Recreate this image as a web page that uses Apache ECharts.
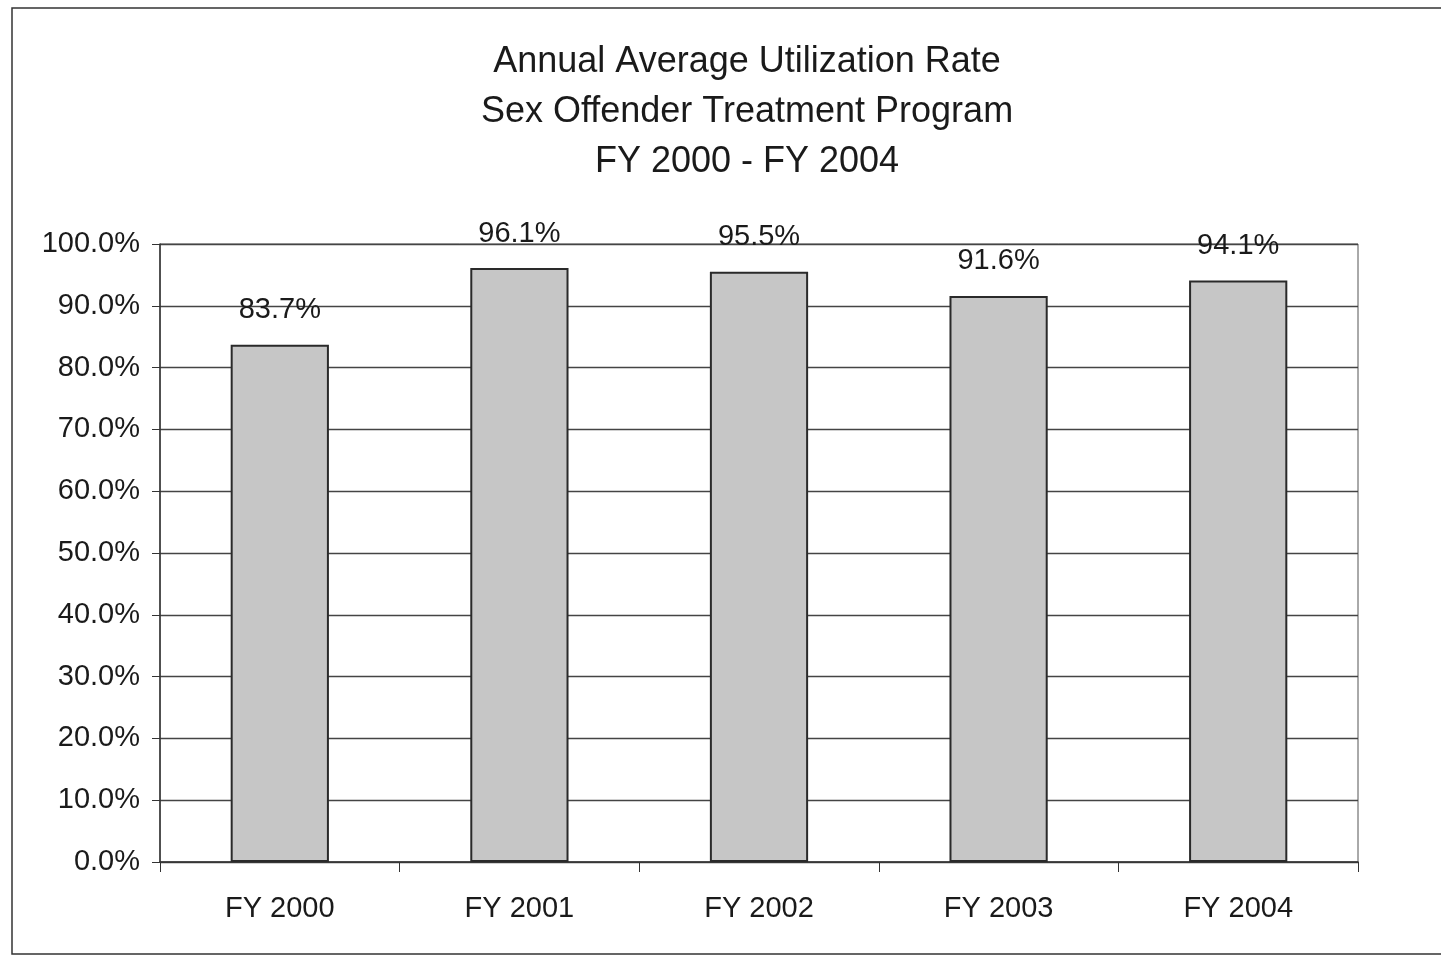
<!DOCTYPE html>
<html>
<head>
<meta charset="utf-8">
<script src="https://cdn.jsdelivr.net/npm/echarts@6/dist/echarts.min.js"></script>
<style>
  html, body { margin: 0; padding: 0; background: #fff; }
  #chart { width: 1441px; height: 969px; }
</style>
</head>
<body>
<div id="chart"></div>
<script>
// 数据
var categories = ['FY 2000', 'FY 2001', 'FY 2002', 'FY 2003', 'FY 2004'];
var rates = [83.7, 96.1, 95.5, 91.6, 94.1];

var myChart = echarts.init(document.getElementById('chart'));
var font = '"Liberation Sans", Arial, sans-serif';

var option = {
    backgroundColor: '#ffffff',
    animation: false,
    title: {
        text: 'Annual Average Utilization Rate\nSex Offender Treatment Program\nFY 2000 - FY 2004',
        left: 742,
        top: 32,
        textAlign: 'center',
        textStyle: {
            fontFamily: font,
            fontSize: 36,
            fontWeight: 'normal',
            color: '#1a1a1a',
            lineHeight: 50
        }
    },
    // 外框
    graphic: [{
        type: 'rect',
        shape: { x: 12, y: 8, width: 1460, height: 946 },
        style: { fill: 'none', stroke: '#333', lineWidth: 1.5 },
        silent: true
    }],
    grid: {
        left: 160,
        right: 83,
        top: 244,
        bottom: 107,
        show: true,
        borderColor: '#555',
        borderWidth: 1
    },
    xAxis: {
        type: 'category',
        data: categories,
        axisTick: { show: true, length: 10, lineStyle: { color: '#333' } },
        axisLine: { lineStyle: { color: '#333', width: 1.5 } },
        axisLabel: {
            fontFamily: font,
            fontSize: 29,
            color: '#1a1a1a',
            margin: 32
        }
    },
    yAxis: {
        type: 'value',
        min: 0,
        max: 100,
        interval: 10,
        axisLine: { show: true, lineStyle: { color: '#333', width: 1.5 } },
        axisTick: { show: true, length: 8, lineStyle: { color: '#333' } },
        axisLabel: {
            fontFamily: font,
            fontSize: 29,
            color: '#1a1a1a',
            margin: 20,
            formatter: function (v) { return v.toFixed(1) + '%'; }
        },
        splitLine: { lineStyle: { color: '#444', width: 1.3 } }
    },
    series: [{
        type: 'bar',
        data: rates,
        barWidth: '41%',
        itemStyle: {
            color: '#c6c6c6',
            borderColor: '#2a2a2a',
            borderWidth: 2
        },
        label: {
            show: true,
            position: 'top',
            distance: 20,
            fontFamily: font,
            fontSize: 29,
            color: '#1a1a1a',
            formatter: function (p) { return p.value.toFixed(1) + '%'; }
        }
    }]
};
myChart.setOption(option);
</script>
</body>
</html>
